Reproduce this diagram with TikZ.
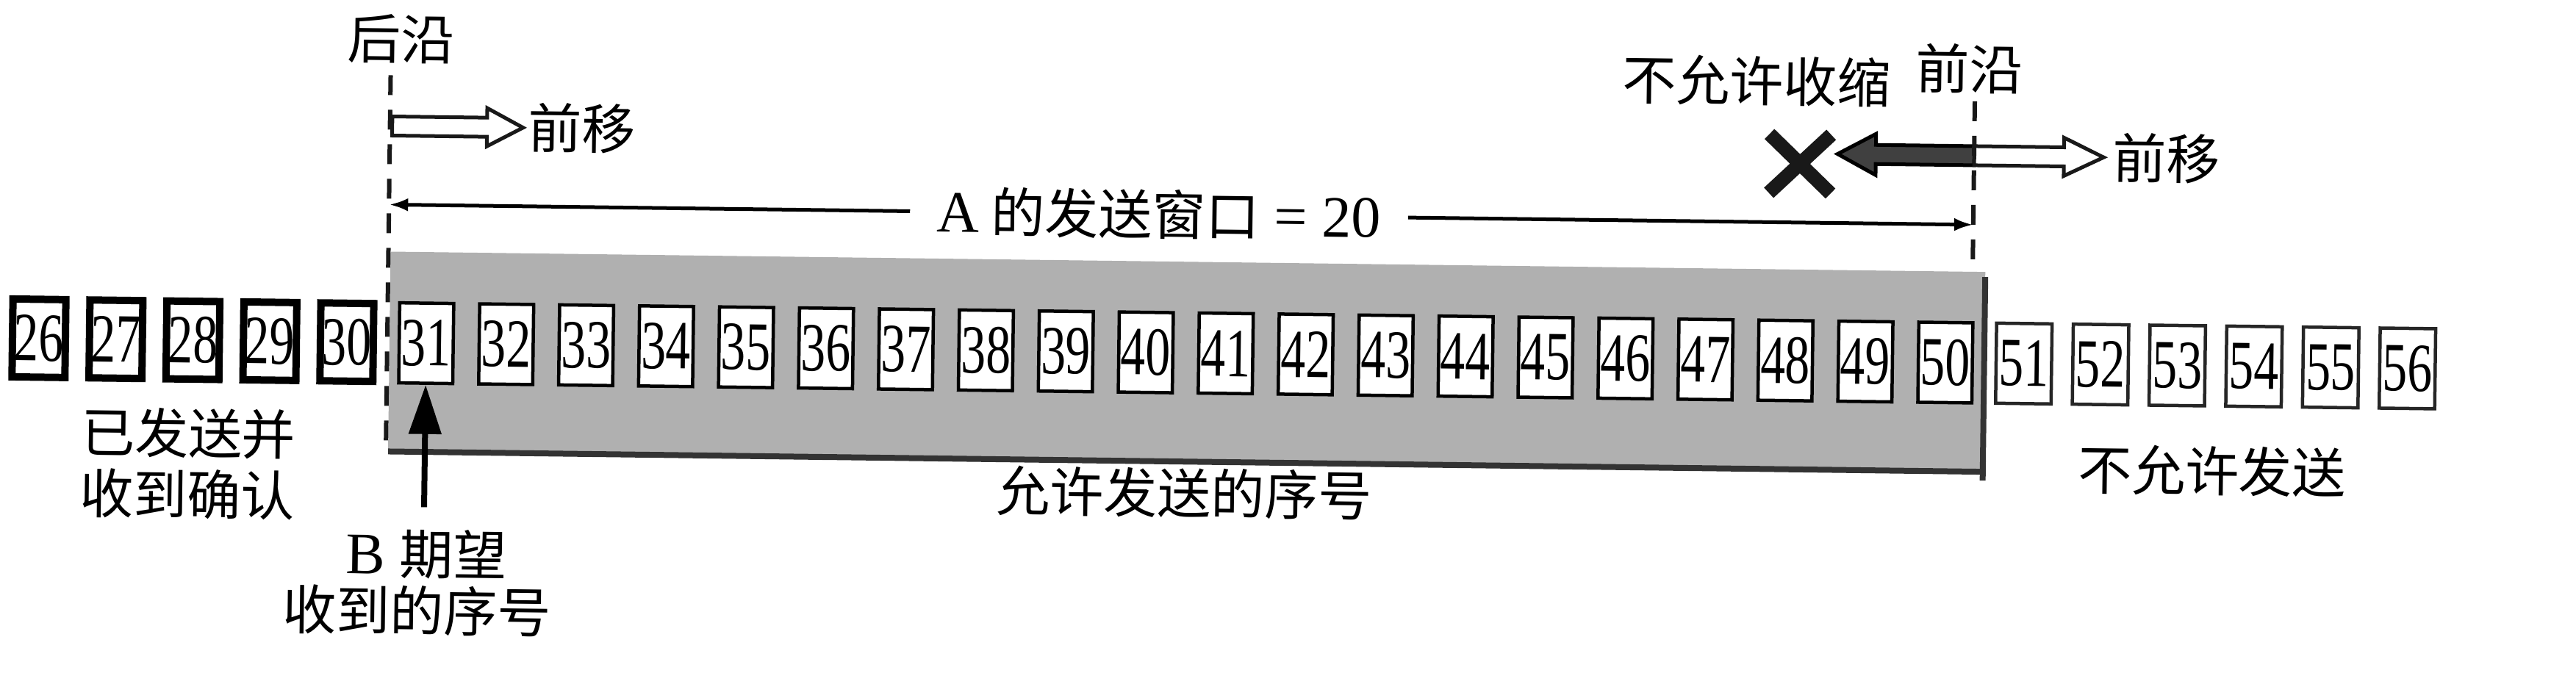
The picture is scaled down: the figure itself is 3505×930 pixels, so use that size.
\documentclass[tikz,border=0pt]{standalone}
\usepackage{fontspec}
\setmainfont{Liberation Serif}
\newfontfamily\cjk{Noto Sans CJK SC}
\usetikzlibrary{arrows.meta,calc}
\begin{document}
\begin{tikzpicture}[x=0.1pt,y=-0.1pt,
  donebox/.style={draw=black, line width=1pt, fill=white, minimum width=7.2pt, minimum height=10.6pt, inner sep=0pt, font=\fontsize{9.4}{9.4}\selectfont},
  winbox/.style={draw=black, line width=0.45pt, fill=white, minimum width=7.35pt, minimum height=10.9pt, inner sep=0pt, font=\fontsize{9.4}{9.4}\selectfont},
  outbox/.style={draw=black!85, line width=0.45pt, fill=white, minimum width=7.55pt, minimum height=10.9pt, inner sep=0pt, font=\fontsize{9.4}{9.4}\selectfont},
  cjklbl/.style={font={\fontsize{7.3}{8.3}\selectfont\cjk}, text=black, inner sep=0pt, align=center},
  latlbl/.style={font=\fontsize{8}{8.3}\selectfont, text=black, inner sep=3.5pt},
  dashline/.style={black!90, line width=0.6pt, dash pattern=on 2.7pt off 2pt},
  dimline/.style={black, line width=0.5pt, -{Latex[length=2.6pt,width=1.8pt]}},
  hollow/.style={draw=black!90, line width=0.5pt, fill=white, line join=miter},
  solidarrow/.style={draw=black, line width=0.5pt, fill=black!75},
  crossstroke/.style={black!90, line width=1.9pt},
  uparrow/.style={black, line width=0.8pt, -{Triangle[length=6.7pt,width=4.3pt]}},
  winfill/.style={fill=black!31},
  winedge/.style={black!80, line width=0.8pt}
]
\fill[white] (0,0) rectangle (3505,930);
\useasboundingbox (0,0) rectangle (3505,930);
\begin{scope}[rotate around={-0.73:(1750,465)}, transform shape]
  % shaded window
  \fill[winfill] (530,358) rectangle (2700,630);
  \draw[winedge] (530,630) -- (2700,630);
  \draw[winedge] (2700,365) -- (2700,642);
  % sequence boxes
  \foreach \n [count=\k from 0] in {26,...,30}
    \node[donebox] (b\n) at ({53+104.75*\k},482) {\scalebox{0.72}[1]{\n}};
  \foreach \n [count=\k from 0] in {31,...,50}
    \node[winbox] (b\n) at ({580+108.8*\k},482) {\scalebox{0.72}[1]{\n}};
  \foreach \n [count=\k from 0] in {51,...,56}
    \node[outbox] (b\n) at ({2754+104.4*\k},482) {\scalebox{0.72}[1]{\n}};
  % dashed edges
  \coordinate (trailtop) at (527,118);
  \coordinate (trailbot) at (527,625);
  \coordinate (leadtop) at (2683,126);
  \coordinate (leadbot) at (2683,352);
  % arrows at trailing edge
  \begin{scope}[shift={(530,187)}]
    \draw[hollow] (0,-13) -- (129,-13) -- (129,-26) -- (178,0) -- (129,26) -- (129,13) -- (0,13) -- cycle;
  \end{scope}
  % arrows at leading edge
  \begin{scope}[shift={(2683,200)}]
    \draw[solidarrow] (0,-13) -- (-134,-13) -- (-134,-28) -- (-186,0) -- (-134,28) -- (-134,13) -- (0,13) -- cycle;
    \draw[hollow] (0,-13) -- (122,-13) -- (122,-26) -- (176,0) -- (122,26) -- (122,13) -- (0,13) -- cycle;
  \end{scope}
  \draw[dashline] (trailtop) -- (trailbot);
  \draw[dashline] (leadtop) -- (leadbot);
  \draw[crossstroke] (2404,174) -- (2488,254) (2404,254) -- (2488,174);
  % labels
  \node[cjklbl] (trail) at (541,68) {后沿};
  \node[cjklbl] (lead) at (2675,82) {前沿};
  \node[cjklbl] (noshrink) at (2386,102) {不允许收缩};
  \node[cjklbl] (fwdL) at (788,187) {前移};
  \node[cjklbl] (fwdR) at (2945,200) {前移};
  \node[latlbl] (dimtxt) at (1575,294) {A\hspace{1.6pt}{\fontsize{7.3}{8}\selectfont\cjk 的发送窗口}\hspace{2pt}=\hspace{2pt}20};
  \coordinate (dimL) at (527,294);
  \coordinate (dimR) at (2683,294);
  \draw[dimline] (dimtxt.west) -- (dimL);
  \draw[dimline] (dimtxt.east) -- (dimR);
  \node[cjklbl] (acked) at (258,650) {已发送并\\收到确认};
  \node[latlbl, inner sep=0pt] (bexp) at (584,769) {B\hspace{2pt}{\fontsize{7.3}{8}\selectfont\cjk 期望}};
  \node[cjklbl] (bseq) at (572,846) {收到的序号};
  \draw[uparrow] ($(b31.south |- bexp.north)+(0,-28)$) -- (b31.south);
  \node[cjklbl] (allowed) at (1614,673) {允许发送的序号};
  \node[cjklbl] (notallowed) at (3012,625) {不允许发送};
\end{scope}
\end{tikzpicture}
\end{document}
